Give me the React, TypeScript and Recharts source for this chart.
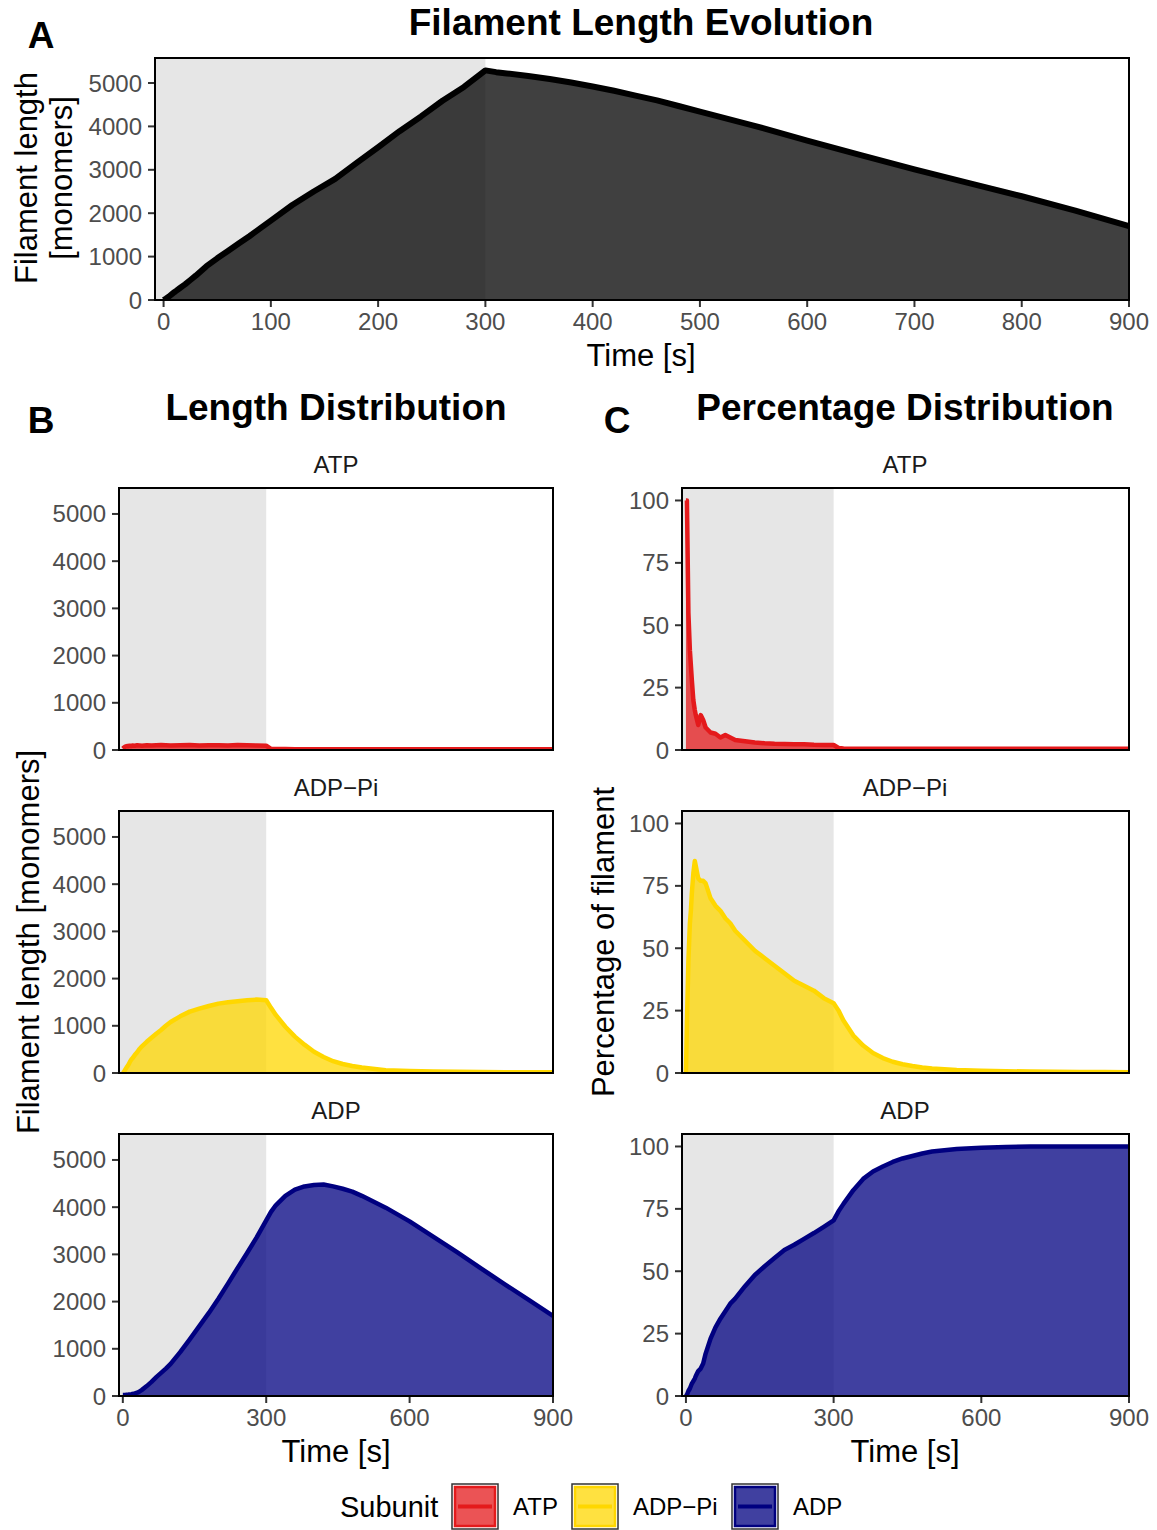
import { Area, AreaChart, ReferenceArea, XAxis, YAxis } from "recharts";
import type { ReactNode } from "react";

// time points [s]
const time = [
  0, 2, 5, 8, 10, 12, 15, 18, 20, 25, 30, 35, 40, 50, 60, 70, 80, 90, 100, 120,
  140, 160, 180, 200, 220, 240, 260, 280, 300, 310, 320, 340, 360, 380, 400,
  420, 440, 460, 480, 500, 550, 600, 650, 700, 750, 800, 850, 900,
];

// panel A: total filament length [monomers]
const totalLength = [
  0, 30, 80, 140, 180, 215, 270, 325, 360, 460, 560, 670, 780, 960, 1130, 1300,
  1470, 1650, 1830, 2190, 2500, 2790, 3160, 3520, 3890, 4230, 4590, 4910, 5290,
  5250, 5220, 5160, 5090, 5010, 4920, 4820, 4710, 4600, 4470, 4340, 4020, 3670,
  3340, 3010, 2700, 2390, 2060, 1700,
];

// panel B: length per subunit [monomers]
const atpLength = [
  30, 50, 70, 80, 85, 80, 90, 85, 95, 90, 100, 95, 90, 100, 95, 100, 105, 100,
  95, 100, 105, 95, 100, 100, 95, 105, 100, 95, 90, 25, 20, 20, 18, 18, 17, 17,
  16, 16, 16, 16, 15, 15, 15, 15, 15, 15, 15, 15,
];
const adpPiLength = [
  0, 20, 70, 120, 150, 180, 240, 290, 310, 380, 440, 510, 565, 660, 745, 830,
  910, 1000, 1080, 1200, 1300, 1365, 1420, 1470, 1500, 1520, 1540, 1555, 1540,
  1380, 1230, 980, 770, 600, 450, 340, 250, 190, 150, 115, 60, 45, 30, 25, 20,
  18, 16, 15,
];
const adpLength = [
  20, 20, 20, 25, 25, 30, 35, 40, 45, 55, 70, 95, 130, 210, 300, 400, 490, 580,
  680, 930, 1200, 1480, 1760, 2060, 2380, 2710, 3030, 3360, 3720, 3900, 4040,
  4240, 4370, 4440, 4470, 4480, 4440, 4390, 4330, 4240, 3990, 3700, 3370, 3040,
  2700, 2360, 2030, 1695,
];

// panel C: percentage of filament per subunit
const atpPercent = [
  100, 100, 55, 40, 34, 28, 20, 16, 14, 10, 14, 12, 9, 7, 6.5, 5, 6, 5, 4, 3.5,
  3, 2.7, 2.5, 2.4, 2.3, 2.3, 2.1, 2, 2, 0.8, 0.6, 0.5, 0.5, 0.5, 0.5, 0.5, 0.5,
  0.5, 0.5, 0.5, 0.5, 0.5, 0.5, 0.5, 0.5, 0.5, 0.5, 0.5,
];
const adpPiPercent = [
  0, 20, 45, 60, 65, 72, 80, 85, 83, 78, 77, 77, 76, 70, 67, 65, 62, 60, 57, 53,
  49, 46, 43, 40, 37, 35, 33, 30, 28, 25, 21, 15, 11, 8, 6, 4.5, 3.5, 2.8, 2.2,
  1.8, 1.2, 0.9, 0.7, 0.6, 0.5, 0.4, 0.4, 0.3,
];
const adpPercent = [
  0, 0.5, 2, 3, 4, 5, 6, 7, 8, 10, 11, 13, 17, 23, 27.5, 31, 34, 37, 39, 44,
  48.5, 52, 55.3, 58.5, 60.6, 63, 65.3, 67.8, 70.4, 74, 77, 82.5, 87, 90, 92,
  93.8, 95.2, 96.2, 97.2, 98, 99, 99.5, 99.8, 100, 100, 100, 100, 100,
];

const subunits = ["ATP", "ADP\u2212Pi", "ADP"];
const subunitColors = ["#E41A1C", "#FFD700", "#000080"];

const timeTicksA = [0, 100, 200, 300, 400, 500, 600, 700, 800, 900];
const timeTicksBC = [0, 300, 600, 900];
const lengthTicks = [0, 1000, 2000, 3000, 4000, 5000];
const percentTicks = [0, 25, 50, 75, 100];

const FONT = '"Liberation Sans", Arial, Helvetica, sans-serif';
const X_MIN = -8;
const X_MAX = 900;
const SHADE_END = 300;
const TICK_STYLE = { fontSize: 24, fill: "#4D4D4D" };
const TICK_LINE = { stroke: "#333333", strokeWidth: 2 };

type Margin = { top: number; right: number; bottom: number; left: number };

type PanelProps = {
  values: number[];
  color: string;
  strokeWidth: number;
  left: number;
  top: number;
  width: number;
  height: number;
  margin: Margin;
  yAxisWidth: number;
  yMax: number;
  yTicks: number[];
  xTicks?: number[];
};

const Panel = ({
  values,
  color,
  strokeWidth,
  left,
  top,
  width,
  height,
  margin,
  yAxisWidth,
  yMax,
  yTicks,
  xTicks,
}: PanelProps) => {
  const data = time.map((t, i) => ({ time: t, value: values[i] }));
  const showX = xTicks !== undefined;
  return (
    <div style={{ position: "absolute", left, top }}>
      <AreaChart width={width} height={height} data={data} margin={margin}>
        <XAxis
          type="number"
          dataKey="time"
          domain={[X_MIN, X_MAX]}
          allowDataOverflow
          hide={!showX}
          ticks={xTicks}
          interval={0}
          height={showX ? 40 : 0}
          tickSize={7}
          tickMargin={6}
          axisLine={false}
          tickLine={TICK_LINE}
          tick={TICK_STYLE}
        />
        <YAxis
          type="number"
          domain={[0, yMax]}
          allowDataOverflow
          ticks={yTicks}
          interval={0}
          width={yAxisWidth}
          tickSize={7}
          tickMargin={6}
          axisLine={false}
          tickLine={TICK_LINE}
          tick={TICK_STYLE}
        />
        <ReferenceArea
          x1={X_MIN}
          x2={SHADE_END}
          y1={0}
          y2={yMax}
          fill="#E6E6E6"
          fillOpacity={1}
          stroke="none"
          zIndex={-50}
        />
        <Area
          type="linear"
          dataKey="value"
          stroke={color}
          strokeWidth={strokeWidth}
          strokeLinejoin="round"
          fill={color}
          fillOpacity={0.75}
          dot={false}
          activeDot={false}
          isAnimationActive={false}
        />
        <ReferenceArea
          x1={X_MIN}
          x2={X_MAX}
          y1={0}
          y2={yMax}
          fill="none"
          stroke="#000000"
          strokeWidth={2}
          zIndex={1500}
        />
      </AreaChart>
    </div>
  );
};

type CaptionProps = {
  x: number;
  y: number;
  size: number;
  bold?: boolean;
  rotate?: boolean;
  color?: string;
  lineHeight?: string;
  children: ReactNode;
};

const Caption = ({ x, y, size, bold, rotate, color = "#000", lineHeight = "1", children }: CaptionProps) => (
  <div
    style={{
      position: "absolute",
      left: x,
      top: y,
      transform: `translate(-50%, -50%)${rotate ? " rotate(-90deg)" : ""}`,
      fontSize: size,
      fontWeight: bold ? 700 : 400,
      color,
      whiteSpace: "pre",
      lineHeight,
      textAlign: "center",
    }}
  >
    {children}
  </div>
);

const facetTops = [478, 801];
const stripY = [465, 788, 1111];
const lengthSeries = [atpLength, adpPiLength, adpLength];
const percentSeries = [atpPercent, adpPiPercent, adpPercent];

const legendKeyX = [452, 572, 732];
const legendLabelX = [513, 633, 793];

const Legend = () => (
  <svg width={1157} height={60} style={{ position: "absolute", left: 0, top: 1470 }}>
    <text x={340} y={47} fontSize={29} fill="#000">
      Subunit
    </text>
    {subunits.map((name, i) => (
      <g key={name}>
        <rect x={legendKeyX[i]} y={14} width={46} height={45} fill="#fff" stroke="#333" strokeWidth={1.5} />
        <rect
          x={legendKeyX[i] + 3}
          y={17}
          width={40}
          height={39}
          fill={subunitColors[i]}
          fillOpacity={0.75}
          stroke={subunitColors[i]}
          strokeWidth={2.5}
        />
        <line
          x1={legendKeyX[i] + 6}
          x2={legendKeyX[i] + 40}
          y1={36.5}
          y2={36.5}
          stroke={subunitColors[i]}
          strokeWidth={4}
        />
        <text x={legendLabelX[i]} y={45} fontSize={24} fill="#000">
          {name}
        </text>
      </g>
    ))}
  </svg>
);

const App = () => {
  return (
    <div
      style={{
        position: "absolute",
        left: 0,
        top: 0,
        width: 1157,
        height: 1530,
        background: "#fff",
        fontFamily: FONT,
        overflow: "hidden",
      }}
    >
      {/* A */}
      <Caption x={41} y={35} size={37} bold>
        A
      </Caption>
      <Caption x={641} y={22} size={37} bold>
        Filament Length Evolution
      </Caption>
      <Panel
        values={totalLength}
        color="#000000"
        strokeWidth={6}
        left={0}
        top={0}
        width={1157}
        height={380}
        margin={{ top: 58, right: 28, bottom: 40, left: 0 }}
        yAxisWidth={155}
        yMax={5576}
        yTicks={lengthTicks}
        xTicks={timeTicksA}
      />
      <Caption x={44} y={178} size={31} rotate lineHeight="35px">
        {"Filament length\n[monomers]"}
      </Caption>
      <Caption x={641} y={355} size={31}>
        Time [s]
      </Caption>

      {/* B */}
      <Caption x={41} y={420} size={37} bold>
        B
      </Caption>
      <Caption x={336} y={407} size={37} bold>
        Length Distribution
      </Caption>
      {lengthSeries.map((values, i) => (
        <Panel
          key={`b-${i}`}
          values={values}
          color={subunitColors[i]}
          strokeWidth={4.5}
          left={0}
          top={i < 2 ? facetTops[i] : 1124}
          width={580}
          height={i < 2 ? 290 : 312}
          margin={{ top: 10, right: 27, bottom: i < 2 ? 18 : 0, left: 0 }}
          yAxisWidth={119}
          yMax={5550}
          yTicks={lengthTicks}
          xTicks={i < 2 ? undefined : timeTicksBC}
        />
      ))}
      {subunits.map((name, i) => (
        <Caption key={`sb-${name}`} x={336} y={stripY[i]} size={24} color="#1A1A1A">
          {name}
        </Caption>
      ))}
      <Caption x={28} y={942} size={31} rotate>
        Filament length [monomers]
      </Caption>
      <Caption x={336} y={1451} size={31}>
        Time [s]
      </Caption>

      {/* C */}
      <Caption x={617} y={420} size={37} bold>
        C
      </Caption>
      <Caption x={905} y={407} size={37} bold>
        Percentage Distribution
      </Caption>
      {percentSeries.map((values, i) => (
        <Panel
          key={`c-${i}`}
          values={values}
          color={subunitColors[i]}
          strokeWidth={4.5}
          left={600}
          top={i < 2 ? facetTops[i] : 1124}
          width={557}
          height={i < 2 ? 290 : 312}
          margin={{ top: 10, right: 28, bottom: i < 2 ? 18 : 0, left: 0 }}
          yAxisWidth={82}
          yMax={105}
          yTicks={percentTicks}
          xTicks={i < 2 ? undefined : timeTicksBC}
        />
      ))}
      {subunits.map((name, i) => (
        <Caption key={`sc-${name}`} x={905} y={stripY[i]} size={24} color="#1A1A1A">
          {name}
        </Caption>
      ))}
      <Caption x={603} y={942} size={31} rotate>
        Percentage of filament
      </Caption>
      <Caption x={905} y={1451} size={31}>
        Time [s]
      </Caption>

      <Legend />
    </div>
  );
};

export default App;
